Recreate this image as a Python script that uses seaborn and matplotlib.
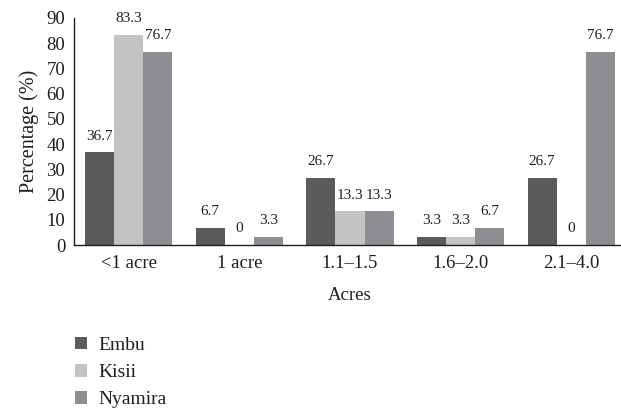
import matplotlib
matplotlib.use("Agg")
import matplotlib.pyplot as plt
import seaborn as sns
import pandas as pd

# Farm size categories and share of households per county
categories = ["<1 acre", "1 acre", "1.1\u20131.5", "1.6\u20132.0", "2.1\u20134.0"]
embu = [36.7, 6.7, 26.7, 3.3, 26.7]
kisii = [83.3, 0, 13.3, 3.3, 0]
nyamira = [76.7, 3.3, 13.3, 6.7, 76.7]
counties = ["Embu", "Kisii", "Nyamira"]
yticks = [0, 10, 20, 30, 40, 50, 60, 70, 80, 90]

colors = ["#5b5b5d", "#c2c3c5", "#8d8e92"]
ink = "#1e1e1e"

rows = []
for county, vals in zip(counties, [embu, kisii, nyamira]):
    for cat, v in zip(categories, vals):
        rows.append({"Acres": cat, "County": county, "Percentage": v})
df = pd.DataFrame(rows)

sns.set_theme(style="white")
plt.rcParams["font.family"] = ["Liberation Serif", "DejaVu Serif"]

fig = plt.figure(figsize=(6.21, 4.09), dpi=100)
ax = fig.add_axes([73.5 / 621, 1 - 245 / 409, 553 / 621, 227 / 409])

sns.barplot(data=df, x="Acres", y="Percentage", hue="County", order=categories,
            hue_order=counties, palette=colors, width=0.79, gap=0,
            saturation=1, ax=ax, legend=True, linewidth=0)

for cont in ax.containers:
    labels = [f"{v:g}" for v in cont.datavalues]
    ax.bar_label(cont, labels=labels, padding=7, fontsize=11, color=ink)

ax.set_ylim(0, 90)
ax.set_xlim(-0.5, 4.5)
ax.set_yticks(yticks)
ax.tick_params(axis="both", length=0, labelsize=13.5, colors=ink)
ax.tick_params(axis="x", pad=7)
ax.tick_params(axis="y", pad=6)
ax.set_xlabel("Acres", fontsize=13.5, color=ink, labelpad=11)
ax.set_ylabel("Percentage (%)", fontsize=14.5, color=ink, labelpad=5)
for s in ["top", "right"]:
    ax.spines[s].set_visible(False)
for s in ["left", "bottom"]:
    ax.spines[s].set_color(ink)
    ax.spines[s].set_linewidth(1.0)

handles, lbls = ax.get_legend_handles_labels()
ax.get_legend().remove()
fig.legend(handles, lbls, loc="upper left", bbox_to_anchor=(57 / 621, 1 - 319 / 409),
           frameon=False, fontsize=14, handlelength=0.65, handleheight=0.65,
           handletextpad=0.6, labelspacing=0.5, labelcolor=ink)

fig.savefig("out.png", dpi=100)
